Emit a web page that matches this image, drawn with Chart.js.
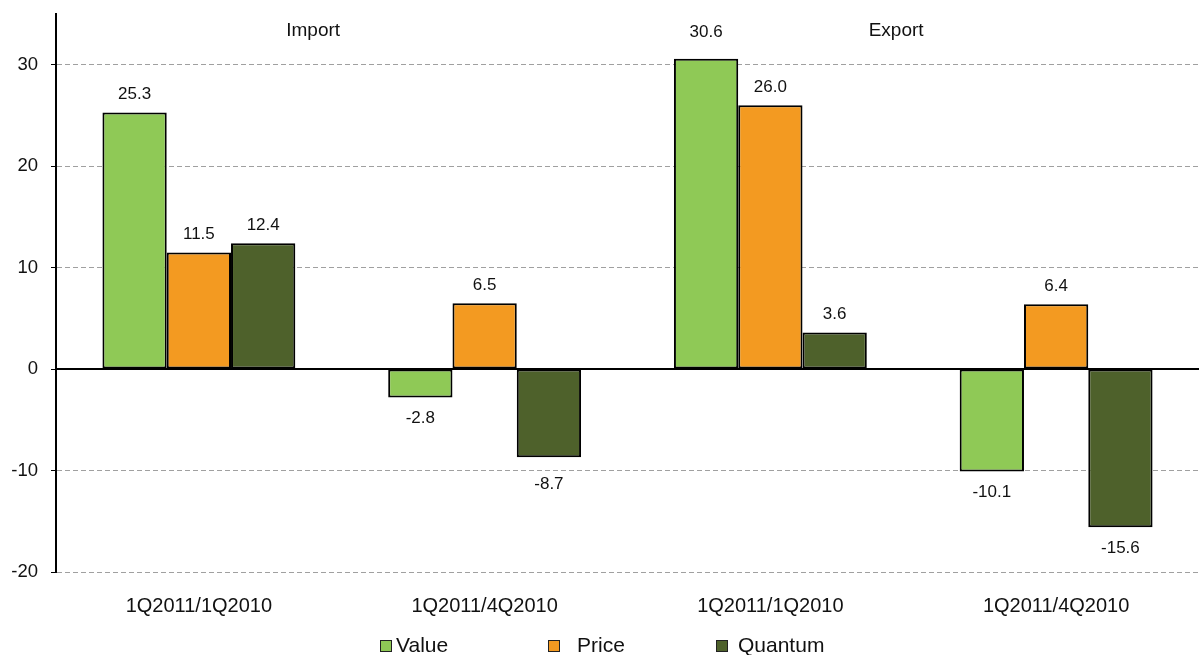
<!DOCTYPE html>
<html>
<head>
<meta charset="utf-8">
<script src="https://cdn.jsdelivr.net/npm/chart.js@4/dist/chart.umd.min.js"></script>
<style>
  html, body { margin: 0; padding: 0; background: #ffffff; }
  #wrap { width: 1199px; height: 655px; position: relative; }
</style>
</head>
<body>
<div id="wrap"><canvas id="c"></canvas></div>
<script>
const categories = ["1Q2011/1Q2010", "1Q2011/4Q2010", "1Q2011/1Q2010", "1Q2011/4Q2010"];
const valueSeries = [25.3, -2.8, 30.6, -10.1];
const priceSeries = [11.5, 6.5, 26.0, 6.4];
const quantumSeries = [12.4, -8.7, 3.6, -15.6];
const seriesNames = ["Value", "Price", "Quantum"];
const yTicks = [-20, -10, 0, 10, 20, 30];
const sectionLabels = ["Import", "Export"];

// style: extra label distance (px) per dataset / category, as placed in the original
const labelNudge = [[0, 0, 8, 0], [0, 0, 0, 0], [0, 6, 0, 0]];

const colors = ["#8FC956", "#F39A21", "#4E612B"];
const FONT = "'Liberation Sans', Arial, sans-serif";

const decorPlugin = {
  id: 'decor',
  beforeDatasetsDraw(chart) {
    const {ctx, chartArea, scales: {y}} = chart;
    const y0 = y.getPixelForValue(0);
    ctx.save();
    ctx.strokeStyle = '#000';
    ctx.lineWidth = 2;
    ctx.beginPath();
    ctx.moveTo(chartArea.left, y0);
    ctx.lineTo(chartArea.right, y0);
    ctx.stroke();
    ctx.restore();
  },
  afterDatasetsDraw(chart) {
    const {ctx, scales: {x}} = chart;
    ctx.save();
    ctx.fillStyle = '#111';
    ctx.textAlign = 'center';
    ctx.textBaseline = 'middle';
    ctx.font = "17px " + FONT;
    chart.data.datasets.forEach((ds, di) => {
      const meta = chart.getDatasetMeta(di);
      meta.data.forEach((bar, i) => {
        const v = ds.data[i];
        const n = labelNudge[di][i];
        const yy = v >= 0 ? bar.y - 18 - n : bar.y + 21 + n;
        ctx.fillText(v.toFixed(1), bar.x, yy);
      });
    });
    // section labels
    ctx.font = "19px " + FONT;
    const step = x.getPixelForValue(1) - x.getPixelForValue(0);
    ctx.fillText(sectionLabels[0], x.getPixelForValue(0) + 0.40 * step, 31);
    ctx.fillText(sectionLabels[1], x.getPixelForValue(2) + 0.44 * step, 31);
    // legend
    const legendX = [380, 548, 716];
    const textX = [396, 577, 738];
    const ly = 646;
    ctx.textAlign = 'left';
    ctx.font = "21px " + FONT;
    seriesNames.forEach((n, i) => {
      ctx.fillStyle = colors[i];
      ctx.fillRect(legendX[i], ly - 6, 12, 12);
      ctx.strokeStyle = '#222';
      ctx.lineWidth = 1;
      ctx.strokeRect(legendX[i] + 0.5, ly - 5.5, 11, 11);
      ctx.fillStyle = '#111';
      ctx.fillText(n, textX[i], ly);
    });
    ctx.restore();
  }
};

const mkDs = (label, data, i) => ({
  label, data,
  backgroundColor: colors[i],
  borderColor: '#000',
  borderWidth: 2,
  borderSkipped: false,
  categoryPercentage: 0.675,
  barPercentage: 1.0
});

new Chart(document.getElementById('c'), {
  type: 'bar',
  data: {
    labels: categories,
    datasets: [
      mkDs(seriesNames[0], valueSeries, 0),
      mkDs(seriesNames[1], priceSeries, 1),
      mkDs(seriesNames[2], quantumSeries, 2)
    ]
  },
  options: {
    responsive: true,
    maintainAspectRatio: false,
    animation: false,
    layout: { padding: { top: 14, left: 0, right: 0, bottom: 0 } },
    plugins: { legend: { display: false }, tooltip: { enabled: false } },
    scales: {
      x: {
        grid: { display: false, drawTicks: false },
        border: { display: false },
        ticks: { color: '#111', font: { size: 20, family: FONT }, padding: 22, maxRotation: 0 },
        afterFit(s) { s.height = 83; s.paddingLeft = 0; s.paddingRight = 0; }
      },
      y: {
        min: -20, max: 35,
        afterBuildTicks(s) { s.ticks = yTicks.map(v => ({ value: v })); },
        grid: { color: '#A0A0A0', lineWidth: 1, tickColor: '#000', tickLength: 5, tickBorderDash: [] },
        border: { display: true, color: '#000', width: 2, dash: [5, 3] },
        ticks: { color: '#111', font: { size: 18.5, family: FONT }, padding: 13 },
        afterFit(s) { s.width = 56; s.paddingTop = 0; s.paddingBottom = 0; }
      }
    }
  },
  plugins: [decorPlugin]
});
</script>
</body>
</html>
